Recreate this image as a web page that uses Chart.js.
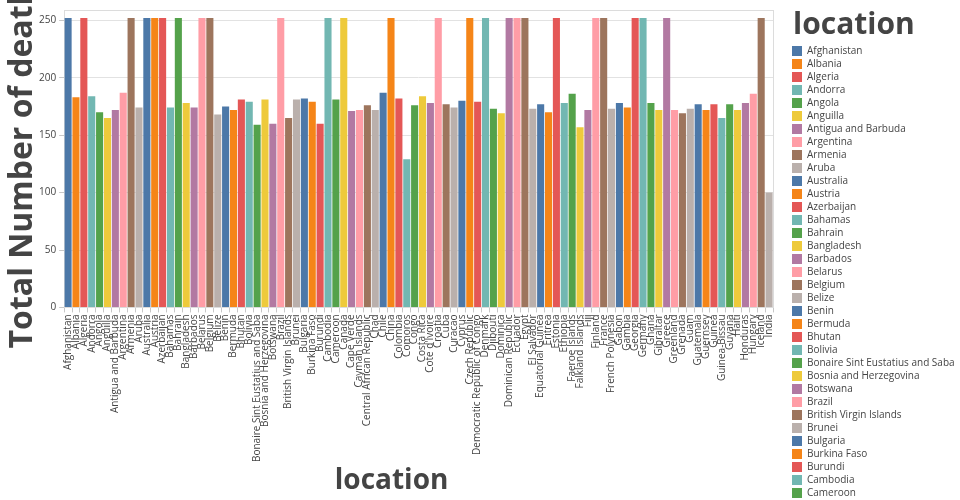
<!DOCTYPE html>
<html>
<head>
<meta charset="utf-8">
<script src="https://cdn.jsdelivr.net/npm/chart.js@4/dist/chart.umd.min.js"></script>
<style>
  html, body { margin: 0; padding: 0; background: #fff; }
</style>
</head>
<body>
<canvas id="chart" width="960" height="500"></canvas>
<script>
// Locations (x categories)
const locations = [
  'Afghanistan', 'Albania', 'Algeria', 'Andorra', 'Angola', 'Anguilla', 'Antigua and Barbuda', 'Argentina', 'Armenia', 'Aruba',
  'Australia', 'Austria', 'Azerbaijan', 'Bahamas', 'Bahrain', 'Bangladesh', 'Barbados', 'Belarus', 'Belgium', 'Belize',
  'Benin', 'Bermuda', 'Bhutan', 'Bolivia', 'Bonaire Sint Eustatius and Saba', 'Bosnia and Herzegovina', 'Botswana', 'Brazil', 'British Virgin Islands', 'Brunei',
  'Bulgaria', 'Burkina Faso', 'Burundi', 'Cambodia', 'Cameroon', 'Canada', 'Cape Verde', 'Cayman Islands', 'Central African Republic', 'Chad',
  'Chile', 'China', 'Colombia', 'Comoros', 'Congo', 'Costa Rica', "Cote d'Ivoire", 'Croatia', 'Cuba', 'Curacao',
  'Cyprus', 'Czech Republic', 'Democratic Republic of Congo', 'Denmark', 'Djibouti', 'Dominica', 'Dominican Republic', 'Ecuador', 'Egypt', 'El Salvador',
  'Equatorial Guinea', 'Eritrea', 'Estonia', 'Ethiopia', 'Faeroe Islands', 'Falkland Islands', 'Fiji', 'Finland', 'France', 'French Polynesia',
  'Gabon', 'Gambia', 'Georgia', 'Germany', 'Ghana', 'Gibraltar', 'Greece', 'Greenland', 'Grenada', 'Guam',
  'Guatemala', 'Guernsey', 'Guinea', 'Guinea-Bissau', 'Guyana', 'Haiti', 'Honduras', 'Hungary', 'Iceland', 'India'
];

// Total number of deaths per location
const deaths = [
  252, 183, 252, 184, 170, 165, 172, 187, 252, 174,
  252, 252, 252, 174, 252, 178, 174, 252, 252, 168,
  175, 172, 181, 179, 159, 181, 160, 252, 165, 181,
  182, 179, 160, 252, 181, 252, 171, 172, 176, 172,
  187, 252, 182, 129, 176, 184, 178, 252, 177, 174,
  180, 252, 179, 252, 173, 169, 252, 252, 252, 173,
  177, 170, 252, 178, 186, 157, 172, 252, 252, 173,
  178, 174, 252, 252, 178, 172, 252, 172, 169, 173,
  177, 172, 177, 165, 177, 172, 178, 186, 252, 100
];

const yTicks = [0, 50, 100, 150, 200, 250];

// T10 palette, cycled over the locations
const palette = ['#4C78A8', '#F58518', '#E45756', '#72B7B2', '#54A24B', '#EECA3B', '#B279A2', '#FF9DA6', '#9D755D', '#BAB0AC'];
const barColors = locations.map((_, i) => palette[i % palette.length]);

const FONT = '"Open Sans", "Noto Sans", sans-serif';

// Light frame around the plot area
const plotFrame = {
  id: 'plotFrame',
  beforeDatasetsDraw(chart) {
    const { ctx, chartArea: a } = chart;
    ctx.save();
    ctx.strokeStyle = '#dcdcdc';
    ctx.lineWidth = 1;
    ctx.strokeRect(Math.round(a.left) + 0.5, Math.round(a.top) + 0.5, Math.round(a.right - a.left), Math.round(a.bottom - a.top));
    ctx.restore();
  }
};

// Axis titles placed like the original (y title runs off the top)
const axisTitles = {
  id: 'axisTitles',
  afterDraw(chart) {
    const { ctx, chartArea: a } = chart;
    ctx.save();
    ctx.fillStyle = '#444';
    ctx.textBaseline = 'alphabetic';
    ctx.font = 'bold 28px ' + FONT;
    ctx.textAlign = 'center';
    ctx.fillText('location', (a.left + a.right) / 2 - 27, 489);
    ctx.font = 'bold 32px ' + FONT;
    ctx.textAlign = 'left';
    ctx.translate(32, a.bottom + 41);
    ctx.rotate(-Math.PI / 2);
    ctx.fillText('Total Number of deaths', 0, 0);
    ctx.restore();
  }
};

// Legend column on the right (cut off by the canvas bottom like the original)
const sideLegend = {
  id: 'sideLegend',
  afterDraw(chart) {
    const ctx = chart.ctx;
    const x0 = chart.chartArea.right + 19;
    const colors = chart.data.datasets[0].backgroundColor;
    ctx.save();
    ctx.fillStyle = '#444';
    ctx.font = 'bold 30px ' + FONT;
    ctx.textBaseline = 'alphabetic';
    ctx.fillText('location', x0 + 1, 34);
    ctx.font = '10px ' + FONT;
    ctx.textBaseline = 'middle';
    chart.data.labels.forEach((name, i) => {
      const y = 51 + i * 13;
      ctx.fillStyle = colors[i];
      ctx.fillRect(x0, y - 5, 10, 10);
      ctx.fillStyle = '#444';
      ctx.fillText(name, x0 + 15, y + 0.5);
    });
    ctx.restore();
  }
};

const ctx = document.getElementById('chart').getContext('2d');
new Chart(ctx, {
  type: 'bar',
  data: {
    labels: locations,
    datasets: [{
      label: 'Total Number of deaths',
      data: deaths,
      backgroundColor: barColors,
      borderWidth: 0,
      barPercentage: 0.9,
      categoryPercentage: 1.0
    }]
  },
  options: {
    responsive: false,
    animation: false,
    devicePixelRatio: 1,
    layout: { padding: { top: 10, right: 187, bottom: 36, left: 36 } },
    plugins: {
      legend: { display: false },
      tooltip: { enabled: false }
    },
    scales: {
      x: {
        grid: { display: true, drawOnChartArea: false, drawTicks: true, tickLength: 5, tickColor: '#c8c8c8' },
        border: { display: false },
        ticks: {
          autoSkip: false,
          minRotation: 90,
          maxRotation: 90,
          padding: 2,
          color: '#444',
          font: { family: FONT, size: 10 }
        }
      },
      y: {
        min: 0,
        max: 259,
        afterBuildTicks(axis) {
          axis.ticks = yTicks.map(v => ({ value: v }));
        },
        grid: { color: '#e2e2e2', tickColor: '#c8c8c8', tickLength: 5 },
        border: { display: false },
        ticks: {
          padding: 3,
          color: '#444',
          font: { family: FONT, size: 10 }
        }
      }
    }
  },
  plugins: [plotFrame, axisTitles, sideLegend]
});
</script>
</body>
</html>
